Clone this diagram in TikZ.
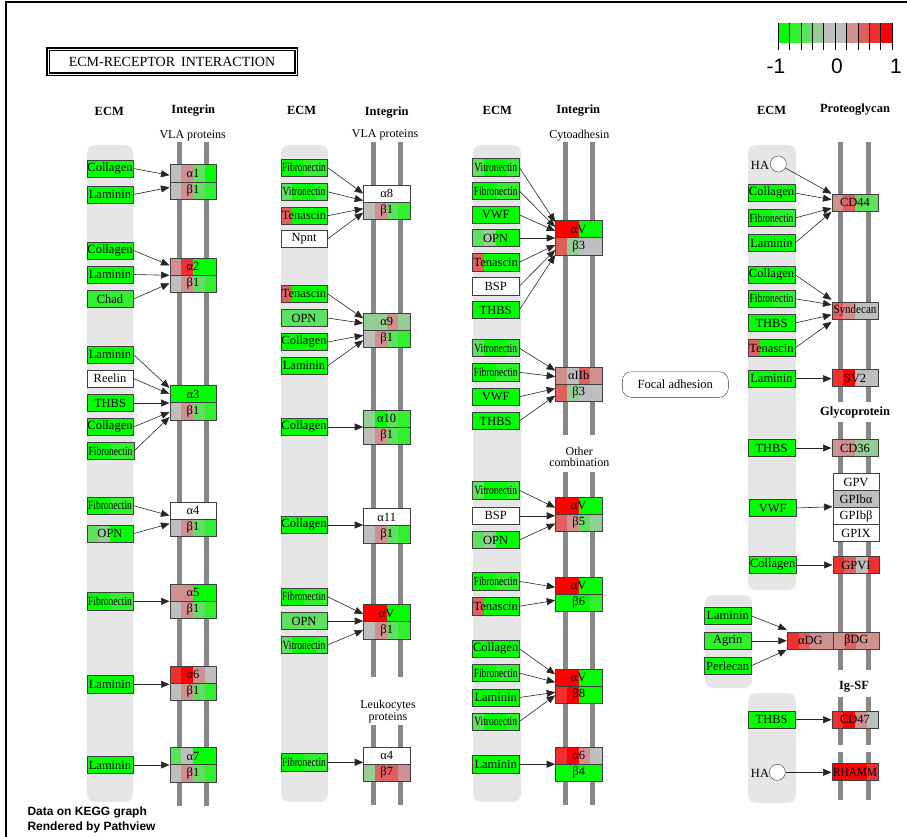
\documentclass[tikz,border=0pt]{standalone}
\usepackage{fontspec}
\setmainfont{Liberation Serif}
\newfontfamily\sansfnt{Liberation Sans}
\usepackage{graphicx}
\usetikzlibrary{arrows.meta, calc}
\definecolor{g4}{HTML}{00FF00}
\definecolor{g3}{HTML}{30F030}
\definecolor{g2}{HTML}{60E060}
\definecolor{g1}{HTML}{94CE94}
\definecolor{gy}{HTML}{BEBEBE}
\definecolor{r1}{HTML}{D09090}
\definecolor{r2}{HTML}{E06060}
\definecolor{r3}{HTML}{F03030}
\definecolor{r4}{HTML}{FF0000}
\definecolor{ecmgray}{HTML}{E6E6E6}
\definecolor{bargray}{HTML}{878787}
\newcommand{\genefont}{\fontsize{12.5}{12.5}\selectfont}
\newcommand{\sq}[1]{\scalebox{0.76}[1]{#1}}
% four coloured slices inside a gene box
\newcommand{\segs}[1]{%
  \edef\seglist{#1}%
  \foreach \cl [count=\i from 0] in \seglist {%
    \pgfmathsetmacro\fa{\i/4}%
    \pgfmathsetmacro\fb{(\i+1)/4}%
    \fill[\cl] ($(path picture bounding box.south west)!\fa!(path picture bounding box.south east)$)
      rectangle ($(path picture bounding box.north west)!\fb!(path picture bounding box.north east)$);
  }}

\begin{document}
\begin{tikzpicture}[x=1pt, y=-1pt,
    box/.style     = {draw=black!75, line width=0.5pt, minimum width=46.5pt,
                      minimum height=17.3pt, inner sep=0pt, font=\genefont},
    gene/.style    = {box, path picture={\segs{#1}}},
    mono/.style    = {box, fill=#1},
    band/.style    = {fill=ecmgray, rounded corners=8pt},
    mbar/.style    = {draw=bargray, line width=4.7pt},
    arr/.style     = {draw=black!85, line width=0.6pt, -{Triangle[length=8.5pt,width=7pt]}},
    hdr/.style     = {font=\bfseries\fontsize{12.5}{12.5}\selectfont},
    sub/.style     = {font=\fontsize{12}{11.6}\selectfont, align=center},
    lbl/.style     = {font=\genefont, inner sep=0pt},
    hacirc/.style  = {circle, draw=black!80, fill=white, minimum size=16pt, inner sep=0pt},
    titlebox/.style= {draw, double=white, double distance=0.9pt, line width=1.1pt,
                      minimum width=248pt, minimum height=25pt,
                      font=\fontsize{14}{14}\selectfont},
  ]
  \useasboundingbox (0,0) rectangle (907,837);
  \draw[line width=2pt] (6,837) -- (6,2) -- (907,2);

  %% Title and legend
  \node[titlebox] (title) at (172,61.5) {ECM-RECEPTOR\hspace{6pt}INTERACTION};
  \foreach \cl [count=\i from 0] in {g4,g3,g2,g1,gy,gy,r1,r2,r3,r4}
    \fill[\cl] (778+\i*11.4,23) rectangle (789.4+\i*11.4,43);
  \foreach \i in {0,...,10}
    \draw[line width=0.6pt] (778+\i*11.4,23) -- (778+\i*11.4,50);
  \node[font=\sansfnt\fontsize{21}{21}\selectfont] (legm) at (776,66) {-1};
  \node[font=\sansfnt\fontsize{21}{21}\selectfont] (lego) at (837,66) {0};
  \node[font=\sansfnt\fontsize{21}{21}\selectfont] (legp) at (896,66) {1};

  %% ECM bands and membrane bars
  \fill[band] (87,145) rectangle (133,802);
  \fill[band] (281,145) rectangle (328,802);
  \fill[band] (473,145) rectangle (521,802);
  \fill[band] (748,145) rectangle (796,590);
  \fill[band] (705,595) rectangle (752,688);
  \fill[band] (748,693) rectangle (796,803);
  \foreach \x in {179.7,206.7} \draw[mbar] (\x,142) -- (\x,806);
  \foreach \x in {373.5,400.8} {\draw[mbar] (\x,142) -- (\x,677); \draw[mbar] (\x,725) -- (\x,805);}
  \foreach \x in {565.2,592.5} {\draw[mbar] (\x,142) -- (\x,435); \draw[mbar] (\x,472) -- (\x,805);}
  \foreach \x in {840.2,868.2} {\draw[mbar] (\x,142) -- (\x,402); \draw[mbar] (\x,422) -- (\x,670);
                                \draw[mbar] (\x,697) -- (\x,745); \draw[mbar] (\x,752) -- (\x,800);}

  %% Headers
  \node[hdr] (h1e) at (109.3,111) {ECM};
  \node[hdr] (h1i) at (193.3,111) {Integrin};
  \node[sub] (h1v) at (192.7,136) {VLA proteins};
  \node[hdr] (h2e) at (301.7,110) {ECM};
  \node[hdr] (h2i) at (386.7,112.5) {Integrin};
  \node[sub] (h2v) at (385,135) {VLA proteins};
  \node[hdr] (h3e) at (497.3,110) {ECM};
  \node[hdr] (h3i) at (578.3,111) {Integrin};
  \node[sub] (h3c) at (579.3,136) {Cytoadhesin};
  \node[hdr] (h4e) at (771.7,110) {ECM};
  \node[hdr] (h4p) at (855,109.5) {Proteoglycan};
  \node[sub] (h3o) at (579.3,457) {Other\\combination};
  \node[sub] (h2l) at (388,711.5) {Leukocytes\\proteins};
  \node[hdr] (h4g) at (855,413) {Glycoprotein};
  \node[hdr] (h4s) at (854,687) {Ig-SF};

  %% Column 1 -- ECM
  \node[mono=g4] (c1col1) at (110,168.5) {Collagen};
  \node[mono=g4] (c1lam1) at (110,194.5) {Laminin};
  \node[mono=g4] (c1col2) at (110,250.5) {Collagen};
  \node[mono=g4] (c1lam2) at (110,274.5) {Laminin};
  \node[mono=g3] (c1chad) at (110,299) {Chad};
  \node[mono=g4] (c1lam3) at (110,354.5) {Laminin};
  \node[mono=white] (c1reel) at (110,378.5) {Reelin};
  \node[mono=g4] (c1thbs) at (110,403) {THBS};
  \node[mono=g4] (c1col3) at (110,427) {Collagen};
  \node[gene={g4,g4,g3,g3}] (c1fn1) at (110.5,451) {\sq{Fibronectin}};
  \node[gene={g4,g4,g3,g3}] (c1fn2) at (110,505.7) {\sq{Fibronectin}};
  \node[gene={g2,g1,g4,g4}] (c1opn) at (110,533.7) {OPN};
  \node[gene={g4,g4,g3,g3}] (c1fn3) at (110,601.3) {\sq{Fibronectin}};
  \node[mono=g4] (c1lam4) at (110,684.3) {Laminin};
  \node[mono=g4] (c1lam5) at (110,765) {Laminin};

  %% Column 1 -- integrins
  \node[gene={gy,r1,g2,g4}] (i1a1) at (193,173.4) {α1};
  \node[gene={gy,r1,g2,g3}] (i1b1) at (193,190.6) {β1};
  \node[gene={r1,r3,g4,g4}] (i1a2) at (193,266.4) {α2};
  \node[gene={gy,r1,g2,g3}] (i1b2) at (193,283.6) {β1};
  \node[mono=g4]            (i1a3) at (193,394.1) {α3};
  \node[gene={gy,r1,g2,g3}] (i1b3) at (193,411.3) {β1};
  \node[mono=white]         (i1a4) at (193,510.7) {α4};
  \node[gene={gy,r1,g2,g3}] (i1b4) at (193,527.9) {β1};
  \node[gene={r1,r1,g4,g4}] (i1a5) at (193,592.7) {α5};
  \node[gene={gy,r1,g2,g3}] (i1b5) at (193,609.9) {β1};
  \node[gene={r3,r4,r1,gy}] (i1a6) at (193,674.7) {α6};
  \node[gene={gy,r1,g2,g3}] (i1b6) at (193,691.9) {β1};
  \node[gene={g2,gy,g4,g4}] (i1a7) at (193,756.1) {α7};
  \node[gene={gy,r1,g2,g3}] (i1b7) at (193,773.3) {β1};

  %% Column 2 -- ECM
  \node[gene={g4,g4,g3,g3}] (c2fn1) at (304,167.5) {\sq{Fibronectin}};
  \node[gene={g2,g4,g4,g3}] (c2vn1) at (304,191.7) {\sq{Vitronectin}};
  \node[gene={r2,g4,g4,g4}] (c2tn1) at (304,215.8) {Tenascin};
  \node[mono=white]         (c2npnt) at (304,239) {Npnt};
  \node[gene={r2,g4,g4,g4}] (c2tn2) at (304,293.7) {Tenascin};
  \node[mono=g2]            (c2opn1) at (304,318) {OPN};
  \node[mono=g4]            (c2col1) at (304,342) {Collagen};
  \node[mono=g4]            (c2lam1) at (304,365.8) {Laminin};
  \node[mono=g4]            (c2col2) at (304,427) {Collagen};
  \node[mono=g4]            (c2col3) at (304,525) {Collagen};
  \node[gene={g4,g4,g3,g3}] (c2fn2) at (304,596.7) {\sq{Fibronectin}};
  \node[mono=g2]            (c2opn2) at (304,621) {OPN};
  \node[gene={g2,g4,g4,g3}] (c2vn2) at (304,645) {\sq{Vitronectin}};
  \node[gene={g4,g4,g3,g3}] (c2fn3) at (304,762.3) {\sq{Fibronectin}};

  %% Column 2 -- integrins
  \node[mono=white]         (i2a1) at (386.7,193.7) {α8};
  \node[gene={gy,r1,g2,g3}] (i2b1) at (386.7,210.9) {β1};
  \node[gene={g1,g1,r1,g1}] (i2a2) at (386.7,321.4) {α9};
  \node[gene={gy,r1,g2,g3}] (i2b2) at (386.7,338.6) {β1};
  \node[gene={g1,g4,g2,g3}] (i2a3) at (386.7,418.7) {α10};
  \node[gene={gy,r1,g2,g3}] (i2b3) at (386.7,435.9) {β1};
  \node[mono=white]         (i2a4) at (386.7,517.1) {α11};
  \node[gene={gy,r1,g2,g3}] (i2b4) at (386.7,534.3) {β1};
  \node[gene={r4,r4,g4,g4}] (i2a5) at (386.7,613.1) {αV};
  \node[gene={gy,r1,g2,g3}] (i2b5) at (386.7,630.3) {β1};
  \node[mono=white]         (i2a6) at (386.7,755.4) {α4};
  \node[gene={g1,r2,r2,r1}] (i2b6) at (386.7,772.6) {β7};

  %% Column 3 -- ECM
  \node[gene={g2,g4,g4,g3}] (c3vn1) at (495.7,167.3) {\sq{Vitronectin}};
  \node[gene={g4,g4,g3,g3}] (c3fn1) at (495.7,190.8) {\sq{Fibronectin}};
  \node[mono=g4]            (c3vwf1) at (495.7,214.7) {VWF};
  \node[gene={g2,g1,g4,g4}] (c3opn1) at (495.7,238) {OPN};
  \node[gene={r2,g4,g4,g4}] (c3tn1) at (495.7,262.3) {Tenascin};
  \node[mono=white]         (c3bsp1) at (495.7,286.3) {BSP};
  \node[mono=g4]            (c3thbs1) at (495.7,310) {THBS};
  \node[gene={g2,g4,g4,g3}] (c3vn2) at (495.7,348) {\sq{Vitronectin}};
  \node[gene={g4,g4,g3,g3}] (c3fn2) at (495.7,372.3) {\sq{Fibronectin}};
  \node[mono=g4]            (c3vwf2) at (495.7,396.7) {VWF};
  \node[mono=g4]            (c3thbs2) at (495.7,421) {THBS};
  \node[gene={g2,g4,g4,g3}] (c3vn3) at (495.7,490.3) {\sq{Vitronectin}};
  \node[mono=white]         (c3bsp2) at (495.7,515.8) {BSP};
  \node[gene={g2,g1,g4,g4}] (c3opn2) at (495.7,540) {OPN};
  \node[gene={g4,g4,g3,g3}] (c3fn3) at (495.7,581.3) {\sq{Fibronectin}};
  \node[gene={r2,g4,g4,g4}] (c3tn2) at (495.7,606.3) {Tenascin};
  \node[mono=g4]            (c3col) at (495.7,648.7) {Collagen};
  \node[gene={g4,g4,g3,g3}] (c3fn4) at (495.7,673) {\sq{Fibronectin}};
  \node[mono=g4]            (c3lam1) at (495.7,697.5) {Laminin};
  \node[gene={g2,g4,g4,g3}] (c3vn4) at (495.7,721.7) {\sq{Vitronectin}};
  \node[mono=g4]            (c3lam2) at (495.7,764.2) {Laminin};

  %% Column 3 -- integrins
  \node[gene={r4,r4,g4,g4}] (i3a1) at (578.7,229.1) {αV};
  \node[gene={r2,g1,gy,gy}] (i3b1) at (578.7,246.3) {β3};
  \node[gene={r1,gy,r2,r1}] (i3a2) at (578.7,375.7) {αIIb};
  \node[gene={r2,g1,gy,gy}] (i3b2) at (578.7,392.9) {β3};
  \node[gene={r4,r4,g4,g4}] (i3a3) at (578.7,505.7) {αV};
  \node[gene={r2,r1,g2,g1}] (i3b3) at (578.7,522.9) {β5};
  \node[gene={r4,r4,g4,g4}] (i3a4) at (578.7,585.4) {αV};
  \node[gene={g4,g4,g4,g3}] (i3b4) at (578.7,602.6) {β6};
  \node[gene={r4,r4,g4,g4}] (i3a5) at (578.7,677.4) {αV};
  \node[gene={r3,r4,g4,g4}] (i3b5) at (578.7,694.6) {β8};
  \node[gene={r3,r4,r1,gy}] (i3a6) at (578.7,755.4) {α6};
  \node[mono=g4]            (i3b6) at (578.7,772.6) {β4};

  \node[draw=black!80, rounded corners=9pt, minimum width=106pt, minimum height=25.6pt,
        font=\genefont] (focal) at (675.3,384.5) {Focal adhesion};

  %% Column 4 -- ECM
  \node[lbl] (ha1t) at (760,165) {HA};
  \node[hacirc] (ha1) at (778.3,164) {};
  \node[mono=g4]            (c4col1) at (771.5,193) {Collagen};
  \node[gene={g4,g4,g3,g3}] (c4fn1) at (771.5,218) {\sq{Fibronectin}};
  \node[mono=g4]            (c4lam1) at (771.5,243) {Laminin};
  \node[mono=g4]            (c4col2) at (771.5,274.7) {Collagen};
  \node[gene={g4,g4,g3,g3}] (c4fn2) at (771.5,298.7) {\sq{Fibronectin}};
  \node[mono=g4]            (c4thbs1) at (771.5,323) {THBS};
  \node[gene={r2,g4,g4,g4}] (c4tn) at (771.5,348) {Tenascin};
  \node[mono=g4]            (c4lam2) at (771.5,378.7) {Laminin};
  \node[mono=g4]            (c4thbs2) at (771.5,448) {THBS};
  \node[mono=g4]            (c4vwf) at (772.7,508) {VWF};
  \node[mono=g4]            (c4col3) at (772.7,565) {Collagen};
  \node[mono=g4]            (c4lam3) at (727.7,615.8) {Laminin};
  \node[mono=g3]            (c4agr) at (727.7,640.8) {Agrin};
  \node[mono=g4]            (c4perl) at (727.7,665.8) {Perlecan};
  \node[mono=g4]            (c4thbs3) at (771.7,719.7) {THBS};
  \node[lbl] (ha2t) at (760,773.3) {HA};
  \node[hacirc] (ha2) at (777.3,772.3) {};

  %% Column 4 -- receptors
  \node[gene={r1,r2,g2,g2}] (cd44) at (855,202.7) {CD44};
  \node[gene={r2,r1,gy,gy}] (synd) at (855,310.8) {\scalebox{0.88}[1]{Syndecan}};
  \node[gene={r3,r4,gy,gy}] (sv2) at (855,378) {SV2};
  \node[gene={r1,r1,g1,g1}] (cd36) at (855,448) {CD36};
  \node[mono=white] (gpv) at (856,482) {GPV};
  \node[mono=gy]    (gp1a) at (856,499.2) {GPIbα};
  \node[mono=white] (gp1b) at (856,516) {GPIbβ};
  \node[mono=white] (gpix) at (856,533) {GPIX};
  \node[gene={r3,r2,gy,r3}] (gpvi) at (856,565) {GPVI};
  \node[gene={r3,r2,r1,r1}] (adg) at (810.3,640.8) {αDG};
  \node[gene={r1,r2,r1,r1}] (bdg) at (856.3,640.8) {βDG};
  \node[gene={r3,r4,r1,gy}] (cd47) at (855,719.7) {CD47};
  \node[gene={r4,r4,r4,r3}] (rhamm) at (855,772) {\scalebox{0.9}[1]{RHAMM}};

  %% Column 1 arrows
  \draw[arr] (c1col1.east) -- ($(i1a1.south west)+(0,-7)$);
  \draw[arr] (c1lam1.east) -- ($(i1a1.south west)+(0,5)$);
  \draw[arr] (c1col2.east) -- ($(i1a2.south west)+(0,-10)$);
  \draw[arr] (c1lam2.east) -- (i1a2.south west);
  \draw[arr] (c1chad.east) -- ($(i1a2.south west)+(0,8)$);
  \draw[arr] (c1lam3.east) -- ($(i1a3.south west)+(0,-15)$);
  \draw[arr] (c1reel.east) -- ($(i1a3.south west)+(0,-9)$);
  \draw[arr] (c1thbs.east) -- (i1a3.south west);
  \draw[arr] (c1col3.east) -- ($(i1a3.south west)+(0,9)$);
  \draw[arr] (c1fn1.east)  -- ($(i1a3.south west)+(0,14)$);
  \draw[arr] (c1fn2.east)  -- ($(i1a4.south west)+(0,-4)$);
  \draw[arr] (c1opn.east)  -- ($(i1a4.south west)+(0,4)$);
  \draw[arr] (c1fn3.east)  -- (c1fn3.east -| i1a5.west);
  \draw[arr] (c1lam4.east) -- (c1lam4.east -| i1a6.west);
  \draw[arr] (c1lam5.east) -- (c1lam5.east -| i1a7.west);

  %% Column 2 arrows
  \draw[arr] (c2fn1.east)  -- ($(i2a1.south west)+(0,-9)$);
  \draw[arr] (c2vn1.east)  -- ($(i2a1.south west)+(0,-2)$);
  \draw[arr] (c2tn1.east)  -- ($(i2a1.south west)+(0,6)$);
  \draw[arr] (c2npnt.east) -- ($(i2a1.south west)+(0,10)$);
  \draw[arr] (c2tn2.east)  -- ($(i2a2.south west)+(0,-12)$);
  \draw[arr] (c2opn1.east) -- ($(i2a2.south west)+(0,-7)$);
  \draw[arr] (c2col1.east) -- ($(i2a2.south west)+(0,5)$);
  \draw[arr] (c2lam1.east) -- ($(i2a2.south west)+(0,10)$);
  \draw[arr] (c2col2.east) -- (c2col2.east -| i2a3.west);
  \draw[arr] (c2col3.east) -- (c2col3.east -| i2a4.west);
  \draw[arr] (c2fn2.east)  -- ($(i2a5.south west)+(0,-8)$);
  \draw[arr] (c2opn2.east) -- (c2opn2.east -| i2a5.west);
  \draw[arr] (c2vn2.east)  -- ($(i2a5.south west)+(0,8)$);
  \draw[arr] (c2fn3.east)  -- (c2fn3.east -| i2a6.west);

  %% Column 3 arrows
  \draw[arr] (c3vn1.east)   -- ($(i3a1.south west)+(0,-16)$);
  \draw[arr] (c3fn1.east)   -- ($(i3a1.south west)+(0,-11)$);
  \draw[arr] (c3vwf1.east)  -- ($(i3a1.south west)+(0,-7)$);
  \draw[arr] (c3opn1.east)  -- (i3a1.south west);
  \draw[arr] (c3tn1.east)   -- ($(i3a1.south west)+(0,7)$);
  \draw[arr] (c3bsp1.east)  -- ($(i3a1.south west)+(0,12)$);
  \draw[arr] (c3thbs1.east) -- ($(i3a1.south west)+(0,17)$);
  \draw[arr] (c3vn2.east)   -- ($(i3a2.south west)+(0,-14)$);
  \draw[arr] (c3fn2.east)   -- ($(i3a2.south west)+(0,-8)$);
  \draw[arr] (c3vwf2.east)  -- ($(i3a2.south west)+(0,4)$);
  \draw[arr] (c3thbs2.east) -- ($(i3a2.south west)+(0,11)$);
  \draw[arr] (c3vn3.east)   -- ($(i3a3.south west)+(0,-7)$);
  \draw[arr] (c3bsp2.east)  -- (c3bsp2.east -| i3a3.west);
  \draw[arr] (c3opn2.east)  -- ($(i3a3.south west)+(0,9)$);
  \draw[arr] (c3fn3.east)   -- ($(i3a4.south west)+(0,-7)$);
  \draw[arr] (c3tn2.east)   -- ($(i3a4.south west)+(0,6)$);
  \draw[arr] (c3col.east)   -- ($(i3a5.south west)+(0,-12)$);
  \draw[arr] (c3fn4.east)   -- ($(i3a5.south west)+(0,-4)$);
  \draw[arr] (c3lam1.east)  -- ($(i3a5.south west)+(0,6)$);
  \draw[arr] (c3vn4.east)   -- ($(i3a5.south west)+(0,9)$);
  \draw[arr] (c3lam2.east)  -- (c3lam2.east -| i3a6.west);

  %% Column 4 arrows
  \draw[arr] (ha1)          -- ($(cd44.west)+(0,-9)$);
  \draw[arr] (c4col1.east)  -- ($(cd44.west)+(0,-3)$);
  \draw[arr] (c4fn1.east)   -- ($(cd44.west)+(0,5.5)$);
  \draw[arr] (c4lam1.east)  -- ($(cd44.west)+(0,9)$);
  \draw[arr] (c4col2.east)  -- ($(synd.west)+(0,-11)$);
  \draw[arr] (c4fn2.east)   -- ($(synd.west)+(0,-6)$);
  \draw[arr] (c4thbs1.east) -- ($(synd.west)+(0,4)$);
  \draw[arr] (c4tn.east)    -- ($(synd.west)+(0,11)$);
  \draw[arr] (c4lam2.east)  -- (c4lam2.east -| sv2.west);
  \draw[arr] (c4thbs2.east) -- (c4thbs2.east -| cd36.west);
  \draw[arr] (c4vwf.east)   -- ($(c4vwf.east -| gp1a.west)+(0,-1.3)$);
  \draw[arr] (c4col3.east)  -- (c4col3.east -| gpvi.west);
  \draw[arr] (c4lam3.east)  -- ($(adg.west)+(0,-11)$);
  \draw[arr] (c4agr.east)   -- (adg.west);
  \draw[arr] (c4perl.east)  -- ($(adg.west)+(0,9)$);
  \draw[arr] (c4thbs3.east) -- (c4thbs3.east -| cd47.west);
  \draw[arr] (ha2.east)     -- (ha2.east -| rhamm.west);

  %% Footer
  \node[font=\sansfnt\bfseries\fontsize{12}{14.6}\selectfont, align=left, anchor=west]
    (foot) at (24,820) {Data on KEGG graph\\Rendered by Pathview};
\end{tikzpicture}
\end{document}
